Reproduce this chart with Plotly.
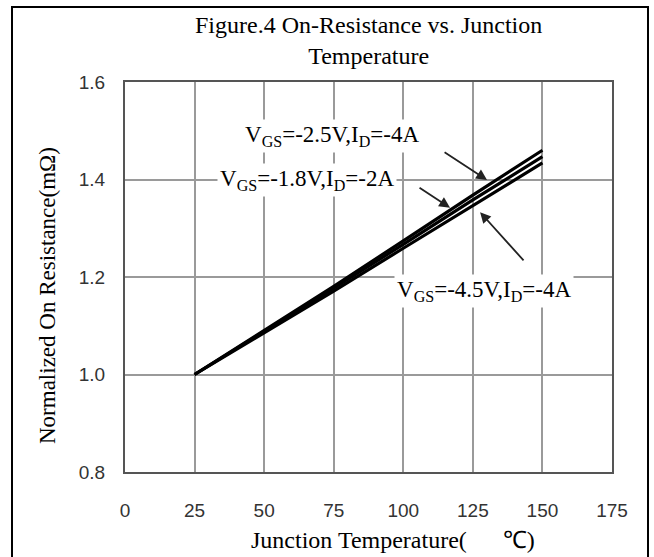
import plotly.graph_objects as go

# ---- data ----
temps = [25, 50, 75, 100, 125, 150]
r_vgs25 = [1.000, 1.090, 1.181, 1.274, 1.368, 1.460]   # VGS=-2.5V, ID=-4A (top)
r_vgs18 = [1.000, 1.088, 1.177, 1.267, 1.358, 1.447]   # VGS=-1.8V, ID=-2A
r_vgs45 = [1.000, 1.085, 1.171, 1.259, 1.347, 1.434]   # VGS=-4.5V, ID=-4A (bottom)
x_ticks = [0, 25, 50, 75, 100, 125, 150, 175]
y_ticks = [0.8, 1.0, 1.2, 1.4, 1.6]

SERIF = "Liberation Serif, Times New Roman, serif"
SANS = "Liberation Sans, Arial, sans-serif"

fig = go.Figure()
for ys, nm in [(r_vgs25, "VGS=-2.5V,ID=-4A"), (r_vgs18, "VGS=-1.8V,ID=-2A"), (r_vgs45, "VGS=-4.5V,ID=-4A")]:
    fig.add_trace(go.Scatter(x=temps, y=ys, mode="lines", name=nm,
                             line=dict(color="black", width=3.2), showlegend=False))

# labels (with white boxes that break the grid)
labels = [
    ("V<sub>GS</sub>=-2.5V,I<sub>D</sub>=-4A", 74.4, 1.489),
    ("V<sub>GS</sub>=-1.8V,I<sub>D</sub>=-2A", 65.4, 1.399),
    ("V<sub>GS</sub>=-4.5V,I<sub>D</sub>=-4A", 129.0, 1.172),
]
for txt, lx, ly in labels:
    fig.add_annotation(x=lx, y=ly, xref="x", yref="y", text=txt, showarrow=False,
                       font=dict(family=SERIF, size=23, color="black"),
                       bgcolor="white", borderpad=2)

# arrows: (head x, head y, tail x, tail y)
arrows = [
    (130.1, 1.399, 114.3, 1.458),
    (116.8, 1.342, 105.3, 1.385),
    (127.6, 1.333, 143.7, 1.231),
]
for hx, hy, tx, ty in arrows:
    fig.add_annotation(x=hx, y=hy, ax=tx, ay=ty, xref="x", yref="y", axref="x", ayref="y",
                       text="", showarrow=True, arrowhead=2, arrowsize=1.2,
                       arrowwidth=1.8, arrowcolor="#222")

# title
fig.add_annotation(x=0.5, y=1.0 + 72 / 390, xref="paper", yref="paper",
                   text="Figure.4 On-Resistance vs. Junction<br>Temperature",
                   showarrow=False, yanchor="top",
                   font=dict(family=SERIF, size=24, color="black"))

# axis titles
fig.add_annotation(x=(393 - 125) / 487, y=(472 - 539) / 390, xref="paper", yref="paper",
                   text="Junction Temperature(&nbsp;&nbsp;&nbsp;&nbsp;&nbsp;&nbsp;<span style='font-family:Liberation Sans'>℃</span>)",
                   showarrow=False, xanchor="center", yanchor="middle",
                   font=dict(family=SERIF, size=24, color="black"))
fig.add_annotation(x=(47 - 125) / 487, y=(472 - 296) / 390, xref="paper", yref="paper",
                   text="Normalized On Resistance(mΩ)", textangle=-90,
                   showarrow=False, xanchor="center", yanchor="middle",
                   font=dict(family=SERIF, size=23, color="black"))

# outer frame
fig.add_shape(type="rect", xref="paper", yref="paper",
              x0=(12 - 125) / 487, x1=(648 - 125) / 487,
              y0=(472 - 560) / 390, y1=(472 - 7) / 390,
              line=dict(color="black", width=2), fillcolor="rgba(0,0,0,0)", layer="below")

fig.update_layout(
    width=654, height=557,
    margin=dict(l=125, r=42, t=82, b=85),
    paper_bgcolor="white", plot_bgcolor="white",
    xaxis=dict(range=[0, 175], tickvals=x_ticks, ticktext=[str(v) for v in x_ticks],
               showgrid=True, gridcolor="#9a9a9a", gridwidth=1.6,
               showline=True, linecolor="#555", linewidth=2, mirror=True,
               zeroline=False, ticks="", ticklabelstandoff=20,
               tickfont=dict(family=SANS, size=19, color="#333")),
    yaxis=dict(range=[0.8, 1.6], tickvals=y_ticks, ticktext=["0.8", "1.0", "1.2", "1.4", "1.6"],
               showgrid=True, gridcolor="#9a9a9a", gridwidth=1.6,
               showline=True, linecolor="#555", linewidth=2, mirror=True,
               zeroline=False, ticks="", ticklabelstandoff=14,
               tickfont=dict(family=SANS, size=19, color="#333")),
)

fig.write_html("out.html")
